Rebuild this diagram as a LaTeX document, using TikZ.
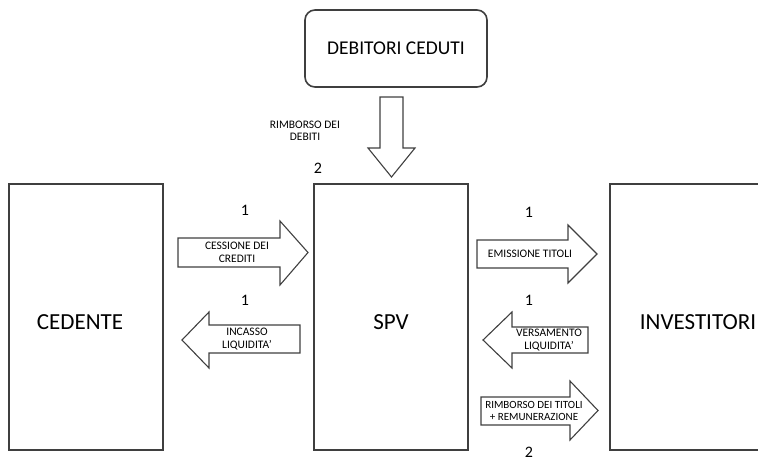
\documentclass[tikz,border=0pt]{standalone}
\usepackage{fontspec}
\setmainfont{Carlito}
\definecolor{boxgray}{HTML}{3F3F3F}
\definecolor{arrowgray}{HTML}{404040}
\tikzset{
  party/.style={draw=boxgray, line width=1.8pt, fill=white, inner sep=0pt},
  roundbox/.style={draw=boxgray, line width=1.6pt, rounded corners=10pt, fill=white,
    font=\fontsize{19.5}{22}\selectfont},
  blockarrow/.style={draw=arrowgray, line width=1.1pt, fill=white, line join=miter},
  bigtext/.style={font=\fontsize{23}{26}\selectfont, inner sep=0pt},
  smalltext/.style={font=\fontsize{11.5}{12.5}\selectfont, align=center, inner sep=0pt},
  numtext/.style={font=\fontsize{16}{18}\selectfont, inner sep=0pt},
}
\begin{document}
\begin{tikzpicture}[x=1pt, y=-1pt]
  \useasboundingbox (0,0) rectangle (758,456);
  \clip (0,0) rectangle (758,456);

  % the three parties
  \node[party, minimum width=154pt, minimum height=266pt] (cedente) at (86,317) {};
  \node[party, minimum width=154pt, minimum height=266pt] (spv) at (391,317) {};
  \node[party, minimum width=176pt, minimum height=266pt] (investitori) at (698,317) {};
  \node[bigtext] (cedenteT) at (80,322) {CEDENTE};
  \node[bigtext] (spvT) at (391,322) {SPV};
  \node[bigtext] (investitoriT) at (698,322) {INVESTITORI};

  % assigned debtors
  \node[roundbox, minimum width=182pt, minimum height=77pt] (debitori) at (396,48.5) {DEBITORI CEDUTI};

  % repayment of the debts, downwards into the SPV
  \draw[blockarrow] (380,97) -- (403,97) -- (403,148) -- (415,148) -- (391.5,177)
    -- (368,148) -- (380,148) -- cycle;
  \node[smalltext] (rimbDebiti) at (305,131) {RIMBORSO DEI\\DEBITI};
  \node[numtext] (nTop) at (318,168) {2};

  % transfer of receivables
  \draw[blockarrow] (178,238) -- (280,238) -- (280,221) -- (308,252.5) -- (280,285)
    -- (280,267) -- (178,267) -- cycle;
  \node[smalltext] (cessione) at (237,252.5) {CESSIONE DEI\\CREDITI};
  \node[numtext] (nCess) at (245,210) {1};

  % cash paid to the originator
  \draw[blockarrow] (300,325) -- (209,325) -- (209,312) -- (182,340) -- (209,368)
    -- (209,353) -- (300,353) -- cycle;
  \node[smalltext] (incasso) at (247,339) {INCASSO\\LIQUIDITA'};
  \node[numtext] (nInc) at (245,300) {1};

  % issue of notes
  \draw[blockarrow] (477,240) -- (568,240) -- (568,225) -- (597,254) -- (568,283)
    -- (568,268) -- (477,268) -- cycle;
  \node[smalltext] (emissione) at (530,254) {EMISSIONE TITOLI};
  \node[numtext] (nEmi) at (529,212) {1};

  % investors' payment
  \draw[blockarrow] (588,327) -- (512,327) -- (512,312) -- (483,340) -- (512,368)
    -- (512,353) -- (588,353) -- cycle;
  \node[smalltext] (versamento) at (549,340) {VERSAMENTO\\LIQUIDITA'};
  \node[numtext] (nVers) at (529,300) {1};

  % redemption of notes plus interest
  \draw[blockarrow] (481,397) -- (570,397) -- (570,381) -- (598,410.5) -- (570,440)
    -- (570,425) -- (481,425) -- cycle;
  \node[smalltext, font=\fontsize{11}{12.5}\selectfont] (rimbTitoli) at (534,411)
    {RIMBORSO DEI TITOLI\\+ REMUNERAZIONE};
  \node[numtext] (nRimb) at (529,452) {2};
\end{tikzpicture}
\end{document}
